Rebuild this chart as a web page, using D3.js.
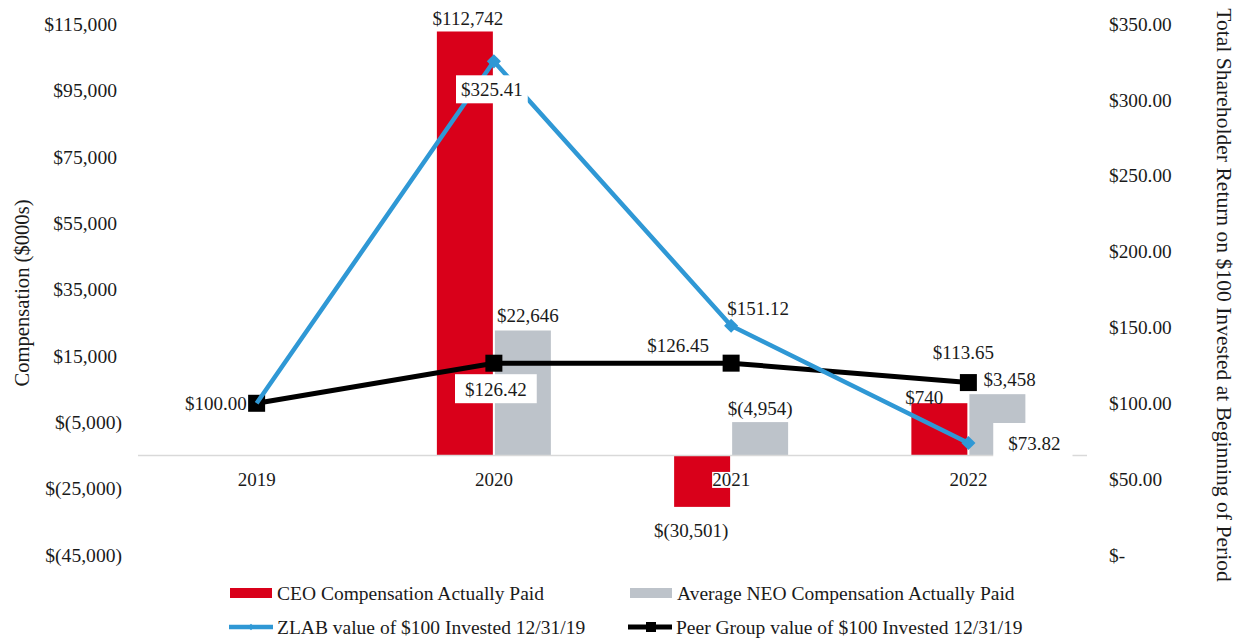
<!DOCTYPE html>
<html>
<head>
<meta charset="utf-8">
<script src="https://cdn.jsdelivr.net/npm/d3@7"></script>
<style>
  html, body { margin: 0; padding: 0; background: #fff; }
  svg { display: block; }
  text { font-family: "Liberation Serif", "Times New Roman", serif; fill: #1a1a1a; }
</style>
</head>
<body>
<svg id="chart" width="1244" height="640"></svg>
<script>
// ---------- data ----------
const years = ["2019", "2020", "2021", "2022"];
const ceoComp = [null, 112742, -30501, 740];          // $000s
const neoComp = [null, 22646, -4954, 3458];           // $000s
const zlabTSR = [100.00, 325.41, 151.12, 73.82];
const peerTSR = [100.00, 126.42, 126.45, 113.65];
const leftTicks = [115000, 95000, 75000, 55000, 35000, 15000, -5000, -25000, -45000];
const rightTicks = [0, 50, 100, 150, 200, 250, 300, 350];
const axisCross = -15000;
const seriesNames = [
  "CEO Compensation Actually Paid",
  "Average NEO Compensation Actually Paid",
  "ZLAB value of $100 Invested 12/31/19",
  "Peer Group value of $100 Invested 12/31/19"
];
const leftTitle = "Compensation ($000s)";
const rightTitle = "Total Shareholder Return on $100 Invested at Beginning of Period";

// ---------- styles ----------
const RED = "#D9001A", GRAY = "#BDC3CA", BLUE = "#2F98D5", BLACK = "#000000";
const FS = 19;

const svg = d3.select("#chart");
const plotL = 138, plotR = 1087, plotT = 24, plotB = 555;

const x = d3.scaleBand().domain(years).range([plotL, plotR]).padding(0);
const cx = d => x(d) + x.bandwidth() / 2;
const yL = d3.scaleLinear().domain([-45000, 115000]).range([plotB, plotT]);
const yR = d3.scaleLinear().domain([0, 350]).range([plotB, plotT]);

const fmtK = v => v < 0 ? "$(" + d3.format(",")(-v) + ")" : "$" + d3.format(",")(v);
const fmtR = v => v === 0 ? "$-" : "$" + v.toFixed(2);

// ---------- axes ----------
const gL = svg.append("g").attr("transform", `translate(${plotL},0)`)
  .call(d3.axisLeft(yL).tickValues(leftTicks).tickFormat(fmtK).tickSize(0).tickPadding(21));
gL.select(".domain").remove();
gL.selectAll("text").attr("font-size", 19.6).attr("font-family", null)
  .attr("dx", d => d < 0 ? 5 : 0);

const gR = svg.append("g").attr("transform", `translate(${plotR},0)`)
  .call(d3.axisRight(yR).tickValues(rightTicks).tickFormat(fmtR).tickSize(0).tickPadding(22));
gR.select(".domain").remove();
gR.selectAll("text").attr("font-size", 19.3).attr("font-family", null);

// ---------- bars ----------
const sub = d3.scaleBand().domain(["ceo", "neo"]).range([-57, 57]).paddingInner(0.035);
const base = yL(axisCross);
const barData = [];
years.forEach((yr, i) => {
  if (ceoComp[i] !== null) barData.push({ yr, key: "ceo", v: ceoComp[i], c: RED });
  if (neoComp[i] !== null) barData.push({ yr, key: "neo", v: neoComp[i], c: GRAY });
});
svg.append("g").selectAll("rect").data(barData).join("rect")
  .attr("x", d => cx(d.yr) + sub(d.key))
  .attr("width", sub.bandwidth())
  .attr("y", d => Math.min(yL(d.v), base))
  .attr("height", d => Math.abs(yL(d.v) - base))
  .attr("fill", d => d.c);

// category axis line
svg.append("line").attr("x1", plotL).attr("x2", plotR).attr("y1", base).attr("y2", base)
  .attr("stroke", "#D9D9D9").attr("stroke-width", 1.5);

// year labels (with white background)
const gB = svg.append("g").attr("transform", `translate(0,${base})`)
  .call(d3.axisBottom(x).tickSize(0).tickPadding(17));
gB.select(".domain").remove();
gB.selectAll("text").attr("font-size", FS).attr("font-family", null);
gB.selectAll(".tick").each(function () {
  const t = d3.select(this).select("text");
  const bb = t.node().getBBox();
  d3.select(this).insert("rect", "text")
    .attr("x", bb.x).attr("y", bb.y + 3).attr("width", bb.width).attr("height", bb.height - 5)
    .attr("fill", "#fff");
});

// ---------- lines ----------
const line = (arr, sc) => d3.line().x((d, i) => cx(years[i])).y(d => sc(d))(arr);
svg.append("path").attr("d", line(peerTSR, yR)).attr("fill", "none")
  .attr("stroke", BLACK).attr("stroke-width", 5);
svg.append("g").selectAll("rect").data(peerTSR).join("rect")
  .attr("x", (d, i) => cx(years[i]) - 8.5).attr("y", d => yR(d) - 8.5)
  .attr("width", 17).attr("height", 17).attr("fill", BLACK);

svg.append("path").attr("d", line(zlabTSR, yR)).attr("fill", "none")
  .attr("stroke", BLUE).attr("stroke-width", 4.5);
svg.append("g").selectAll("path").data(zlabTSR.slice(1)).join("path")
  .attr("d", d3.symbol(d3.symbolSquare, 100)())
  .attr("transform", (d, i) => `translate(${cx(years[i + 1])},${yR(d)}) rotate(45)`)
  .attr("fill", BLUE);

// ---------- data labels ----------
function label(txt, px, py, anchor, box) {
  const g = svg.append("g");
  const t = g.append("text").attr("x", px).attr("y", py).attr("dy", "0.35em")
    .attr("text-anchor", anchor).attr("font-size", FS).text(txt);
  if (box) {
    const bb = t.node().getBBox();
    g.insert("rect", "text")
      .attr("x", bb.x - box[0]).attr("y", py - box[2])
      .attr("width", bb.width + box[0] + box[1]).attr("height", box[2] + box[3])
      .attr("fill", "#fff");
  }
}
// CEO bars
const ceoOff = [null, [3, -13, "middle"], [-11, 23, "middle"], [-15, -6, "middle"]];
// NEO bars
const neoOff = [null, [5, -15, "middle"], [0, -14, "middle"], [-14, -15, "start"]];
years.forEach((yr, i) => {
  if (ceoComp[i] !== null) {
    const o = ceoOff[i];
    const bx = cx(yr) + sub("ceo") + sub.bandwidth() / 2;
    label(fmtK(ceoComp[i]), bx + o[0], yL(ceoComp[i]) + o[1], o[2]);
  }
  if (neoComp[i] !== null) {
    const o = neoOff[i];
    const bx = cx(yr) + sub("neo") + sub.bandwidth() / 2;
    label(fmtK(neoComp[i]), bx + o[0], yL(neoComp[i]) + o[1], o[2]);
  }
});
// Peer labels
const peerOff = [[-10, 0, "end", null], [2, 26, "middle", [10, 10, 15, 14]],
                 [-53, -18, "middle", null], [-5, -30, "middle", null]];
peerTSR.forEach((v, i) => {
  const o = peerOff[i];
  label(fmtR(v), cx(years[i]) + o[0], yR(v) + o[1], o[2], o[3]);
});
// ZLAB labels (2019 shares the peer label)
const zlabOff = [null, [-2, 28, "middle", [5, 5, 14, 14]],
                 [27, -17, "middle", null], [66, 0, "middle", [15, 12, 20, 19]]];
zlabTSR.forEach((v, i) => {
  const o = zlabOff[i];
  if (!o) return;
  label(fmtR(v), cx(years[i]) + o[0], yR(v) + o[1], o[2], o[3]);
});

// ---------- axis titles ----------
svg.append("text").attr("transform", "translate(22,293) rotate(-90)")
  .attr("text-anchor", "middle").attr("dy", "0.35em").attr("font-size", 20.6).text(leftTitle);
svg.append("text").attr("transform", "translate(1225,295) rotate(90)")
  .attr("text-anchor", "middle").attr("dy", "0.35em").attr("font-size", 21.6).text(rightTitle);

// ---------- legend ----------
const lg = svg.append("g");
const legendItems = [
  { name: seriesNames[0], type: "bar", c: RED, x: 230, y: 593 },
  { name: seriesNames[1], type: "bar", c: GRAY, x: 630, y: 593 },
  { name: seriesNames[2], type: "lineD", c: BLUE, x: 229, y: 627 },
  { name: seriesNames[3], type: "lineS", c: BLACK, x: 628, y: 627 }
];
legendItems.forEach(it => {
  if (it.type === "bar") {
    lg.append("rect").attr("x", it.x).attr("y", it.y - 5).attr("width", 42).attr("height", 10).attr("fill", it.c);
  } else {
    lg.append("line").attr("x1", it.x).attr("x2", it.x + 44).attr("y1", it.y).attr("y2", it.y)
      .attr("stroke", it.c).attr("stroke-width", it.type === "lineD" ? 4.5 : 5);
    if (it.type === "lineD") {
      lg.append("path").attr("d", d3.symbol(d3.symbolSquare, 20)())
        .attr("transform", `translate(${it.x + 22},${it.y}) rotate(45)`).attr("fill", it.c);
    } else {
      lg.append("rect").attr("x", it.x + 18).attr("y", it.y - 5).attr("width", 10).attr("height", 10).attr("fill", it.c);
    }
  }
  lg.append("text").attr("x", it.x + (it.type === "bar" ? 47 : 48)).attr("y", it.y).attr("dy", "0.35em")
    .attr("font-size", 19.5).text(it.name);
});
</script>
</body>
</html>
